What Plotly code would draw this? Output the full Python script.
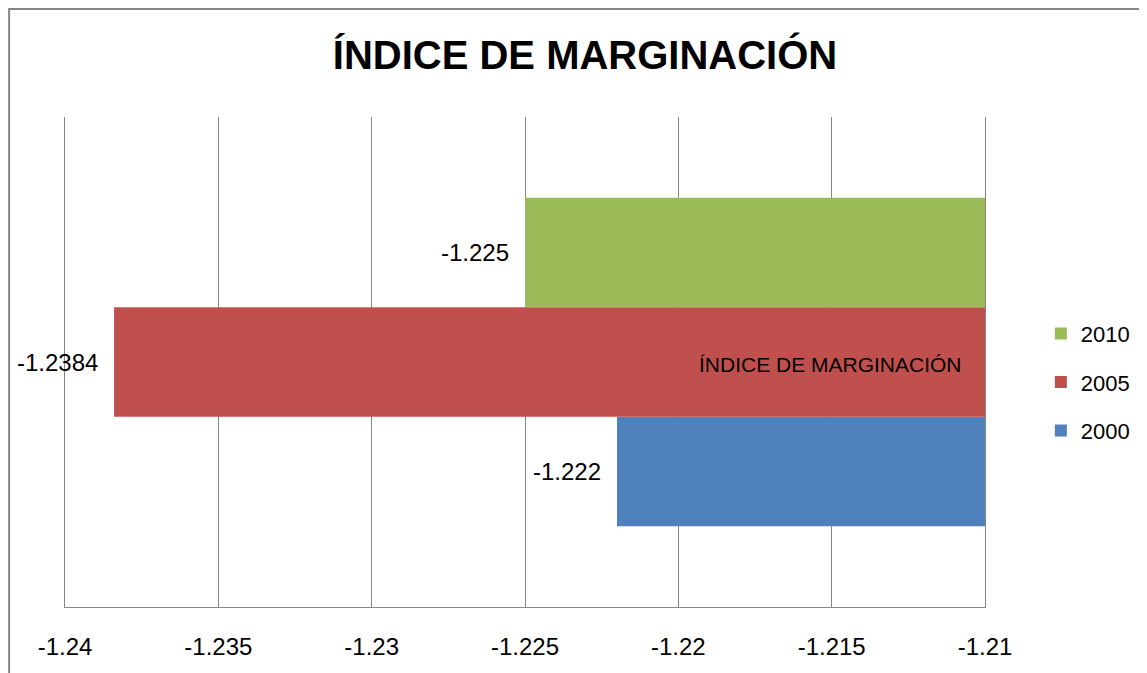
import plotly.graph_objects as go

category = ["ÍNDICE DE MARGINACIÓN"]
years = ["2000", "2005", "2010"]
values = [-1.222, -1.2384, -1.225]
value_labels = ["-1.222", "-1.2384", "-1.225"]
colors = ["#4F81BD", "#C0504D", "#9BBB59"]
axis_base = -1.21
tick_vals = [-1.24, -1.235, -1.23, -1.225, -1.22, -1.215, -1.21]
tick_text = ["-1.24", "-1.235", "-1.23", "-1.225", "-1.22", "-1.215", "-1.21"]
title_text = "ÍNDICE DE MARGINACIÓN"

FONT = "Liberation Sans, Arial, sans-serif"

fig = go.Figure()
n = len(years)
for i, (yr, v, c) in enumerate(zip(years, values, colors)):
    fig.add_trace(go.Bar(
        y=category, x=[v - axis_base], base=axis_base, orientation="h",
        name=yr, marker=dict(color=c, line=dict(width=0)),
        legendrank=n - i, legendgroup=yr,
    ))

annotations = []
group_width = 1 - 0.33
for i, (v, lab) in enumerate(zip(values, value_labels)):
    annotations.append(dict(
        x=v, y=category[0], xref="x", yref="y", text=lab, showarrow=False,
        xanchor="right", yanchor="middle", xshift=-14,
        yshift=(i - (n - 1) / 2) * (group_width / n) * 490,
        font=dict(size=24, color="#000000", family=FONT),
    ))
annotations.append(dict(
    x=1, xref="paper", y=category[0], yref="y", text=category[0], showarrow=False,
    xanchor="right", yanchor="middle", xshift=-21, yshift=-2,
    font=dict(size=21, color="#000000", family=FONT),
))

fig.update_layout(
    width=1139, height=665,
    paper_bgcolor="white", plot_bgcolor="white",
    barmode="group", bargap=0.33, bargroupgap=0,
    margin=dict(l=57, r=160, t=109, b=66),
    title=dict(text="<b>" + title_text + "</b>", x=0.5066, xref="container", xanchor="center",
               y=0.929, yref="container", yanchor="middle",
               font=dict(size=40, color="#000000", family=FONT)),
    font=dict(family=FONT, color="#000000"),
    xaxis=dict(range=[-1.24, -1.21], tickvals=tick_vals, ticktext=tick_text,
               showgrid=True, gridcolor="#868686", gridwidth=1,
               showline=True, linecolor="#868686", linewidth=1,
               ticks="", ticklabelstandoff=18, zeroline=False,
               tickfont=dict(size=24, color="#000000", family=FONT)),
    yaxis=dict(showticklabels=False, ticks="", showgrid=False, zeroline=False,
               showline=True, mirror=True, linecolor="#868686", linewidth=1),
    legend=dict(x=1.0607, xanchor="left", y=0.459, yanchor="middle", traceorder="grouped",
                font=dict(size=22, color="#000000", family=FONT),
                itemwidth=30, tracegroupgap=17),
    annotations=annotations,
    shapes=[dict(type="rect", xref="paper", yref="paper",
                 x0=(1 - 57) / 922, x1=(1170 - 57) / 922,
                 y0=(599 - 700) / 490, y1=(599 - 1) / 490,
                 line=dict(color="#868686", width=2), fillcolor="rgba(0,0,0,0)", layer="below")],
)

fig.write_html("out.html")
